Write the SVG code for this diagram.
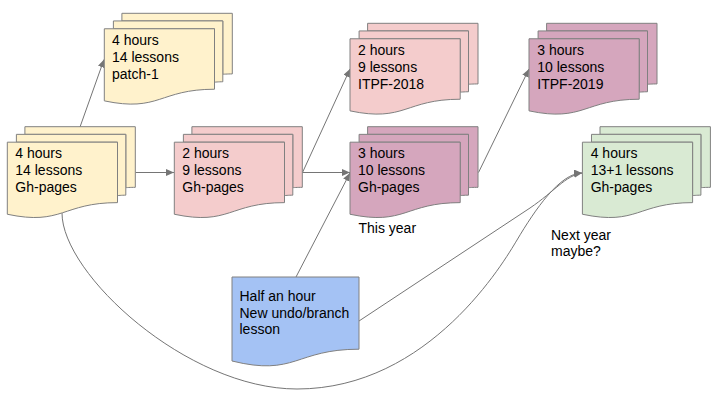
<svg xmlns="http://www.w3.org/2000/svg" xmlns:xlink="http://www.w3.org/1999/xlink" width="721" height="407" viewBox="0 0 721 407">
<style>
text{font-family:"Liberation Sans",Arial,sans-serif;font-size:14px;fill:#000}
.sh{stroke:#808080;stroke-width:1;stroke-linejoin:miter}
.cn{fill:none;stroke:#757575;stroke-width:1}
</style>
<defs>
<g id="mdoc" class="sh">
<path d="M17.6,7.65 L17.6,0 L128,0 L128,60.63 C123.3,60.63 118.5,60.95 118.5,60.95 L118.5,7.65 Z"/>
<path d="M9.08,15.48 L9.08,7.65 L118.5,7.65 L118.5,68.47 C114.4,68.47 110.2,68.89 110.2,68.89 L110.2,15.48 Z"/>
<path d="M0,15.48 L110.2,15.48 L110.2,75.93 C55.1,75.93 55.1,99.18 0,87.56 Z"/>
</g>
<marker id="arr" markerUnits="userSpaceOnUse" markerWidth="9" markerHeight="8" refX="8" refY="3.5" orient="auto" viewBox="0 0 9 8">
<path d="M0,0 L8,3.5 L0,7 Z" fill="#757575"/>
</marker>
</defs>
<rect width="721" height="407" fill="#fff"/>
<g id="connectors">
<path class="cn" d="M80,127 L104,59.5" marker-end="url(#arr)"/>
<path class="cn" d="M135.5,172.5 L174,172.5" marker-end="url(#arr)"/>
<path class="cn" d="M302.5,172.5 L350,69" marker-end="url(#arr)"/>
<path class="cn" d="M302.5,172.5 L350,172.5" marker-end="url(#arr)"/>
<path class="cn" d="M478.5,172.5 L529,69" marker-end="url(#arr)"/>
<path class="cn" d="M296,277 L350,173" marker-end="url(#arr)"/>
<path class="cn" d="M359,321 L530,208 C555,191 565,176 582,173" marker-end="url(#arr)"/>
<path class="cn" d="M62,213 C62,274 187,389 297,389 C430,389 505,260 517,240 C534.9,209.9 560,173 582,173" marker-end="url(#arr)"/>
</g>
<g id="node-patch1">
<use xlink:href="#mdoc" transform="translate(104.3,13.3)" fill="#fff2cc"/>
<text x="112" y="45"><tspan x="112">4 hours</tspan><tspan x="112" dy="16.8">14 lessons</tspan><tspan x="112" dy="16.8">patch-1</tspan></text>
</g>
<g id="node-ghpages4">
<use xlink:href="#mdoc" transform="translate(7.3,126.7)" fill="#fff2cc"/>
<text x="15.3" y="158"><tspan x="15.3">4 hours</tspan><tspan x="15.3" dy="16.8">14 lessons</tspan><tspan x="15.3" dy="16.8">Gh-pages</tspan></text>
</g>
<g id="node-ghpages2">
<use xlink:href="#mdoc" transform="translate(174.3,126.7)" fill="#f4cccc"/>
<text x="182.3" y="158"><tspan x="182.3">2 hours</tspan><tspan x="182.3" dy="16.8">9 lessons</tspan><tspan x="182.3" dy="16.8">Gh-pages</tspan></text>
</g>
<g id="node-itpf2018">
<use xlink:href="#mdoc" transform="translate(350,23.3)" fill="#f4cccc"/>
<text x="358" y="55"><tspan x="358">2 hours</tspan><tspan x="358" dy="16.8">9 lessons</tspan><tspan x="358" dy="16.8">ITPF-2018</tspan></text>
</g>
<g id="node-thisyear">
<use xlink:href="#mdoc" transform="translate(350,126.7)" fill="#d5a6bd"/>
<text x="358" y="158"><tspan x="358">3 hours</tspan><tspan x="358" dy="16.8">10 lessons</tspan><tspan x="358" dy="16.8">Gh-pages</tspan></text>
<text x="358.5" y="233">This year</text>
</g>
<g id="node-itpf2019">
<use xlink:href="#mdoc" transform="translate(529,23.3)" fill="#d5a6bd"/>
<text x="537.3" y="55"><tspan x="537.3">3 hours</tspan><tspan x="537.3" dy="16.8">10 lessons</tspan><tspan x="537.3" dy="16.8">ITPF-2019</tspan></text>
</g>
<g id="node-nextyear">
<use xlink:href="#mdoc" transform="translate(582.4,126.7)" fill="#d9ead3"/>
<text x="590.7" y="158"><tspan x="590.7">4 hours</tspan><tspan x="590.7" dy="16.8">13+1 lessons</tspan><tspan x="590.7" dy="16.8">Gh-pages</tspan></text>
<text x="551" y="239.5"><tspan x="551">Next year</tspan><tspan x="551" dy="16.5">maybe?</tspan></text>
</g>
<g id="node-undo">
<path class="sh" fill="#a4c2f4" d="M232,277 L359,277 L359,349.2 C295.5,349.2 295.5,376.7 232,361 Z"/>
<text x="239.5" y="301"><tspan x="239.5">Half an hour</tspan><tspan x="239.5" dy="16.7">New undo/branch</tspan><tspan x="239.5" dy="16.7">lesson</tspan></text>
</g>
</svg>
